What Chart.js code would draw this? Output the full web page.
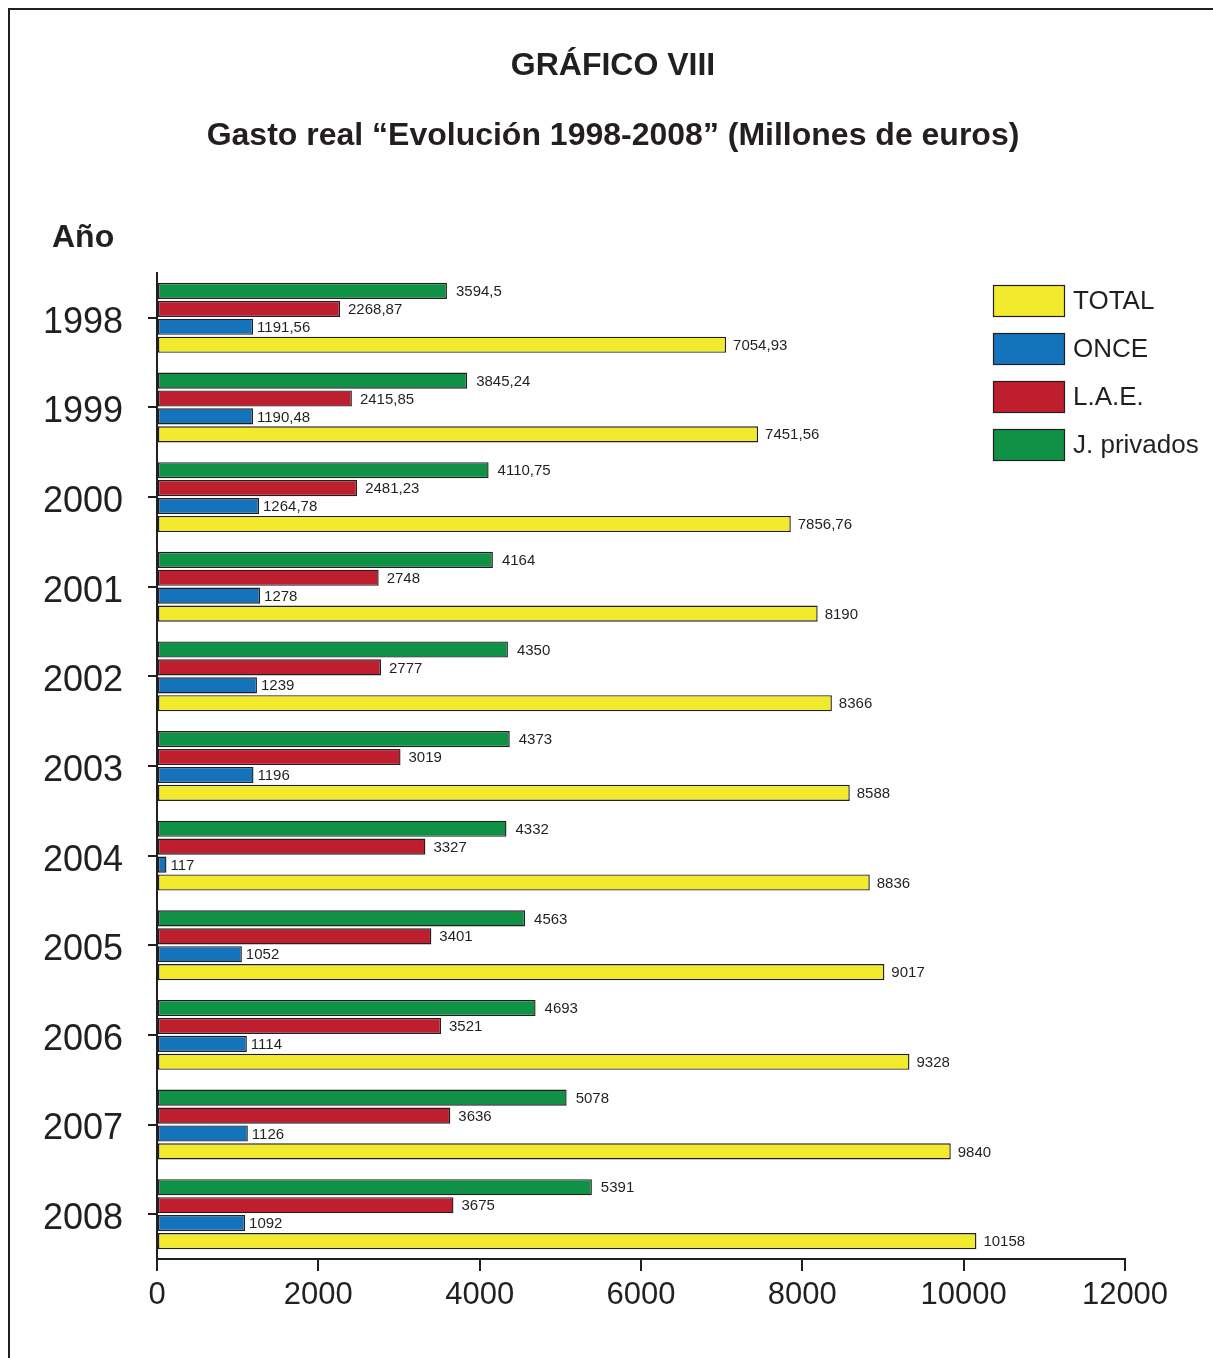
<!DOCTYPE html>
<html lang="es">
<head>
<meta charset="utf-8">
<title>Gasto real 1998-2008</title>
<script src="https://cdn.jsdelivr.net/npm/chart.js@4/dist/chart.umd.min.js"></script>
<style>
  html, body { margin: 0; padding: 0; background: #fff; overflow: hidden; }
  canvas { display: block; }
</style>
</head>
<body>
<canvas id="gastoChart" width="1213" height="1358"></canvas>
<script>
const years = ["1998", "1999", "2000", "2001", "2002", "2003", "2004", "2005", "2006", "2007", "2008"];
const total = [7054.93, 7451.56, 7856.76, 8190, 8366, 8588, 8836, 9017, 9328, 9840, 10158];
const once = [1191.56, 1190.48, 1264.78, 1278, 1239, 1196, 117, 1052, 1114, 1126, 1092];
const lae = [2268.87, 2415.85, 2481.23, 2748, 2777, 3019, 3327, 3401, 3521, 3636, 3675];
const privados = [3594.5, 3845.24, 4110.75, 4164, 4350, 4373, 4332, 4563, 4693, 5078, 5391];
const xTicks = [0, 2000, 4000, 6000, 8000, 10000, 12000];

const FONT = '"Liberation Sans", Arial, Helvetica, sans-serif';
const INK = "#231f20";

// legend entries in the order shown in the picture
const legendOrder = ["TOTAL", "ONCE", "L.A.E.", "J. privados"];

function fmt(v) {
  return String(v).replace(".", ",");
}

// frame, titles, "Año", value labels and legend
const decor = {
  id: "decor",
  beforeDraw(chart) {
    const c = chart.ctx;
    c.save();
    c.fillStyle = "#fff";
    c.fillRect(0, 0, chart.width, chart.height);
    c.strokeStyle = INK;
    c.lineWidth = 2;
    c.beginPath();
    c.moveTo(9, chart.height);
    c.lineTo(9, 9);
    c.lineTo(chart.width, 9);
    c.stroke();
    c.restore();
  },
  afterDatasetsDraw(chart) {
    const c = chart.ctx;
    c.save();
    c.font = "15px " + FONT;
    c.fillStyle = INK;
    c.textBaseline = "middle";
    c.textAlign = "left";
    chart.data.datasets.forEach((ds, i) => {
      const meta = chart.getDatasetMeta(i);
      meta.data.forEach((bar, j) => {
        c.fillText(fmt(ds.data[j]), bar.x + ds.labelGap, bar.y + 1);
      });
    });
    c.restore();
  },
  afterDraw(chart) {
    const c = chart.ctx;
    c.save();
    c.fillStyle = INK;
    c.textAlign = "center";
    c.textBaseline = "middle";
    c.font = "bold 32px " + FONT;
    c.fillText("GRÁFICO VIII", 613, 66);
    c.fillText("Gasto real \u201CEvolución 1998-2008\u201D (Millones de euros)", 613, 136);
    c.textAlign = "left";
    c.fillText("Año", 52, 238);

    // legend
    c.font = "26px " + FONT;
    legendOrder.forEach((name, k) => {
      const ds = chart.data.datasets.find(d => d.label === name);
      const top = 285 + k * 48;
      c.fillStyle = ds.backgroundColor;
      c.fillRect(993, top, 72, 32);
      c.strokeStyle = INK;
      c.lineWidth = 1.2;
      c.strokeRect(993.5, top + 0.5, 71, 31);
      c.fillStyle = INK;
      c.fillText(name, 1073, top + 17);
    });
    c.restore();
  }
};

new Chart(document.getElementById("gastoChart"), {
  type: "bar",
  data: {
    labels: years,
    datasets: [
      { label: "J. privados", data: privados, backgroundColor: "#0f9246", labelGap: 9 },
      { label: "L.A.E.", data: lae, backgroundColor: "#be1e2d", labelGap: 8 },
      { label: "ONCE", data: once, backgroundColor: "#1473bb", labelGap: 4 },
      { label: "TOTAL", data: total, backgroundColor: "#f2ea2d", labelGap: 7 }
    ].map(d => Object.assign(d, {
      borderColor: INK,
      borderWidth: 1.4,
      borderSkipped: false,
      categoryPercentage: 0.8,
      barPercentage: 0.9
    }))
  },
  options: {
    indexAxis: "y",
    responsive: false,
    animation: false,
    layout: { padding: { left: 0, top: 273, right: 88, bottom: 0 } },
    plugins: {
      legend: { display: false },
      title: { display: false },
      tooltip: { enabled: false }
    },
    scales: {
      y: {
        type: "category",
        offset: true,
        grid: {
          offset: false,
          drawOnChartArea: false,
          drawTicks: true,
          tickLength: 9,
          color: INK,
          lineWidth: 2
        },
        border: { display: true, color: INK, width: 2 },
        ticks: {
          padding: 25,
          labelOffset: 5,
          color: INK,
          font: { family: FONT, size: 36 }
        },
        afterFit(scale) { scale.width = 157; }
      },
      x: {
        min: 0,
        max: 12000,
        afterBuildTicks(scale) {
          scale.ticks = xTicks.map(v => ({ value: v }));
        },
        grid: {
          drawOnChartArea: false,
          drawTicks: true,
          tickLength: 12,
          color: INK,
          lineWidth: 2
        },
        border: { display: true, color: INK, width: 2 },
        ticks: {
          padding: 6,
          color: INK,
          maxRotation: 0,
          font: { family: FONT, size: 31 },
          callback: v => String(v)
        },
        afterFit(scale) { scale.height = 99; }
      }
    }
  },
  plugins: [decor]
});
</script>
</body>
</html>
